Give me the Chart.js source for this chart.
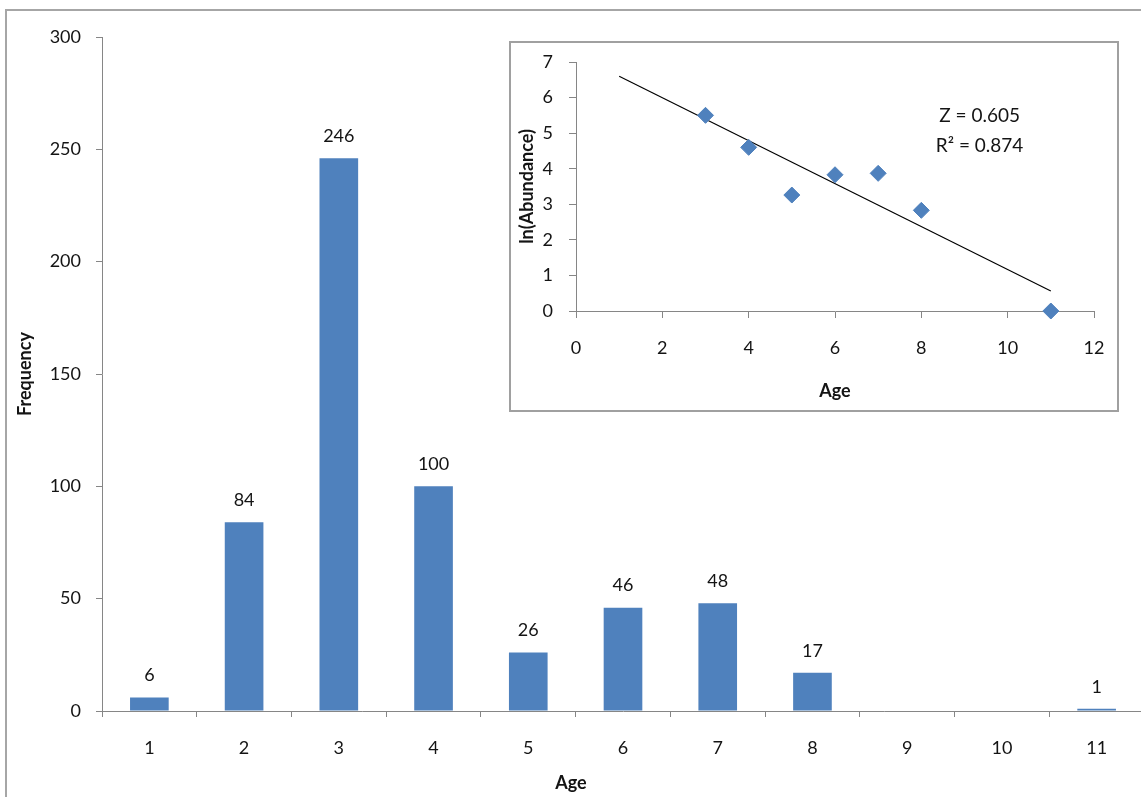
<!DOCTYPE html>
<html>
<head>
<meta charset="utf-8">
<script src="https://cdn.jsdelivr.net/npm/chart.js@4"></script>
<style>
  html, body { margin: 0; padding: 0; background: #fff; overflow: hidden; }
  #frame { position: absolute; left: 5px; top: 9px; width: 1300px; height: 1000px; border: 2px solid #a6a6a6; }
  #main { position: absolute; left: 0; top: 0; width: 1160px; height: 797px; }
  #insetBox { position: absolute; left: 509px; top: 41px; width: 606px; height: 367px; border: 2px solid #a0a0a0; background: #fff; }
  #insetWrap { position: absolute; left: 0; top: 0; width: 606px; height: 367px; }
</style>
</head>
<body>
<div id="frame"></div>
<div id="main"><canvas id="freqChart"></canvas></div>
<div id="insetBox"><div id="insetWrap"><canvas id="lnChart"></canvas></div></div>
<script>
// main histogram
const ages = ['1', '2', '3', '4', '5', '6', '7', '8', '9', '10', '11'];
const frequency = [6, 84, 246, 100, 26, 46, 48, 17, 0, 0, 1];

// inset: ln(abundance) vs age
const lnAges = [3, 4, 5, 6, 7, 8, 11];
const lnAbundance = [5.5, 4.6, 3.26, 3.83, 3.87, 2.83, 0];
const trendAges = [1, 11];
const trendValues = [6.6, 0.56];
const statLines = ['Z = 0.605', 'R\u00B2 = 0.874'];
const statX = 9.35;
const statY = [5.48, 4.64];

const blue = '#4F81BD';
const axisGrey = '#868686';
const textCol = '#141414';
const fam = 'Lato, "Open Sans", sans-serif';

Chart.defaults.font.family = fam;
Chart.defaults.color = textCol;

// keep the plot area exactly where layout.padding puts it
function noPad(s) {
  s.paddingTop = 0;
  s.paddingBottom = 0;
  s.paddingLeft = 0;
  s.paddingRight = 0;
}

const barLabels = {
  id: 'barLabels',
  afterDatasetsDraw(chart) {
    const ctx = chart.ctx;
    const meta = chart.getDatasetMeta(0);
    ctx.save();
    ctx.font = '18px ' + fam;
    ctx.fillStyle = textCol;
    ctx.textAlign = 'center';
    ctx.textBaseline = 'middle';
    meta.data.forEach((bar, i) => {
      if (frequency[i] > 0) ctx.fillText(String(frequency[i]), bar.x, bar.y - 22);
    });
    // x title, placed like the original (not centred on the clipped axis)
    ctx.font = 'bold 18px ' + fam;
    ctx.fillText('Age', chart.scales.x.left + 469, 783);
    ctx.restore();
  }
};

new Chart(document.getElementById('freqChart'), {
  type: 'bar',
  data: {
    labels: ages,
    datasets: [{
      data: frequency,
      backgroundColor: blue,
      categoryPercentage: 1,
      barPercentage: 0.408
    }]
  },
  options: {
    responsive: true,
    maintainAspectRatio: false,
    animation: false,
    layout: { autoPadding: false, padding: { left: 0, top: 37, right: 16, bottom: 0 } },
    plugins: { legend: { display: false }, tooltip: { enabled: false } },
    scales: {
      x: {
        offset: true,
        grid: { offset: true, drawOnChartArea: false, tickLength: 6, color: axisGrey },
        border: { color: axisGrey, width: 1 },
        ticks: { padding: 20, font: { size: 18 } },
        afterFit(s) { s.height = 86; noPad(s); }
      },
      y: {
        min: 0,
        max: 300,
        ticks: { stepSize: 50, padding: 15, font: { size: 18 } },
        grid: { drawOnChartArea: false, tickLength: 6, color: axisGrey },
        border: { color: axisGrey, width: 1 },
        title: { display: true, text: 'Frequency', font: { size: 18, weight: 'bold' }, padding: { top: 14, bottom: 0 } },
        afterFit(s) { s.width = 102; noPad(s); }
      }
    }
  },
  plugins: [barLabels]
});

const statText = {
  id: 'statText',
  afterDatasetsDraw(chart) {
    const ctx = chart.ctx;
    const xs = chart.scales.x, ys = chart.scales.y;
    ctx.save();
    ctx.font = '19px ' + fam;
    ctx.fillStyle = textCol;
    ctx.textAlign = 'center';
    ctx.textBaseline = 'middle';
    statLines.forEach((t, i) => ctx.fillText(t, xs.getPixelForValue(statX), ys.getPixelForValue(statY[i])));
    ctx.restore();
  }
};

new Chart(document.getElementById('lnChart'), {
  type: 'scatter',
  data: {
    datasets: [{
      data: lnAges.map((a, i) => ({ x: a, y: lnAbundance[i] })),
      pointStyle: 'rectRot',
      pointRadius: 8,
      backgroundColor: blue,
      borderColor: blue,
      clip: false
    }, {
      type: 'line',
      data: trendAges.map((a, i) => ({ x: a, y: trendValues[i] })),
      borderColor: '#000',
      borderWidth: 1.2,
      pointRadius: 0,
      fill: false
    }]
  },
  options: {
    responsive: true,
    maintainAspectRatio: false,
    animation: false,
    layout: { autoPadding: false, padding: { left: 0, top: 19, right: 23, bottom: 0 } },
    plugins: { legend: { display: false }, tooltip: { enabled: false } },
    scales: {
      x: {
        type: 'linear',
        min: 0,
        max: 12,
        ticks: { stepSize: 2, padding: 19, font: { size: 18 } },
        grid: { drawOnChartArea: false, tickLength: 7, color: axisGrey },
        border: { color: axisGrey, width: 1 },
        title: { display: true, text: 'Age', font: { size: 18, weight: 'bold' }, padding: { top: 0, bottom: 8 } },
        afterFit(s) { s.height = 99; noPad(s); }
      },
      y: {
        min: 0,
        max: 7,
        ticks: { stepSize: 1, padding: 16, font: { size: 18 } },
        grid: { drawOnChartArea: false, tickLength: 7, color: axisGrey },
        border: { color: axisGrey, width: 1 },
        title: { display: true, text: 'ln(Abundance)', font: { size: 18, weight: 'bold' }, padding: { top: 5, bottom: 0 } },
        afterFit(s) { s.width = 65; noPad(s); }
      }
    }
  },
  plugins: [statText]
});
</script>
</body>
</html>
